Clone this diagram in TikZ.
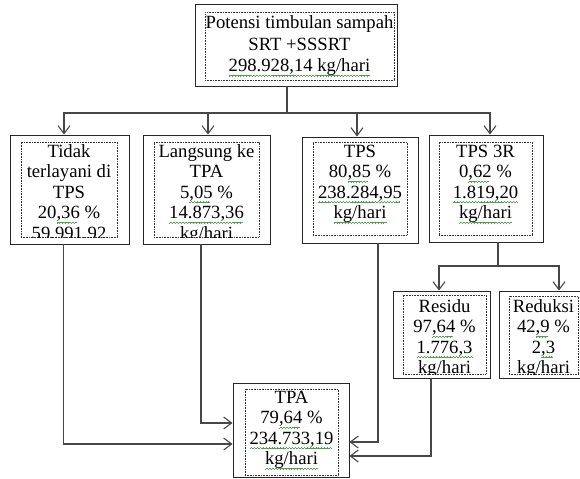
\documentclass[tikz,border=0pt]{standalone}
\usepackage{fontspec}
\setmainfont{Liberation Serif}
\usetikzlibrary{arrows.meta,fit,calc}
\definecolor{sqgreen}{RGB}{70,165,70}
\newcommand\sqbit[1]{\rule[#1]{0.55pt}{0.5pt}}
\newcommand\sq[1]{\setbox0\hbox{#1}\rlap{\color{sqgreen}\leaders\hbox{\sqbit{-3.4pt}\sqbit{-3pt}\sqbit{-2.6pt}\sqbit{-3pt}}\hskip\wd0}\box0\relax}

\begin{document}
\begin{tikzpicture}[x=0.75pt,y=-0.75pt,
outbox/.style={draw=black!85,line width=0.7pt,inner sep=0pt},
inbox/.style={draw=black!80,line width=0.45pt,dash pattern=on 0.6pt off 0.6pt,inner sep=0pt},
txt/.style={anchor=north,inner sep=0pt,align=center,font=\fontsize{14}{15.4}\selectfont},
conn/.style={draw=black!72,line width=0.8pt},
arr/.style={conn,-{Straight Barb[length=6pt,width=9pt]}}]
\path[use as bounding box,clip] (0,0) rectangle (580,478);

% outer boxes
\node[outbox,fit={(195,4) (397,86)}] (top) {};
\node[outbox,fit={(10,135) (129,244)}] (b1) {};
\node[outbox,fit={(143,135) (270,244)}] (b2) {};
\node[outbox,fit={(302,137) (418,243)}] (b3) {};
\node[outbox,fit={(429,135) (543,242)}] (b4) {};
\node[outbox,fit={(393,291) (490,378)}] (residu) {};
\node[outbox,fit={(499,291) (590,378)}] (reduksi) {};
\node[outbox,fit={(233,383) (349,477)}] (tpa) {};

% text boxes
\node[inbox,fit={(205,12) (394,80)}] (topin) {};
\node[inbox,fit={(21,142) (117,237)}] (b1in) {};
\node[inbox,fit={(154,142) (259,237)}] (b2in) {};
\node[inbox,fit={(313,142) (407,235)}] (b3in) {};
\node[inbox,fit={(439,142) (532,235)}] (b4in) {};
\node[inbox,fit={(403,295) (486,374)}] (residuin) {};
\node[inbox,fit={(509,296) (578,374)}] (reduksiin) {};
\node[inbox,fit={(245,389) (338,475)}] (tpain) {};

\node[txt] (toptxt) at (299.5,13.6) {\strut Potensi timbulan sampah\\[1pt] SRT +SSSRT\\[1pt] \sq{298.928,14 kg/hari}};
\begin{scope}
\clip (b1in.south west) rectangle (b1in.north east);
\node[txt] (b1txt) at (69,142.6) {\strut Tidak\\ terlayani di\\ TPS\\ 20\sq{,36} \%\\ 59.991,92};
\end{scope}
\begin{scope}
\clip (b2in.south west) rectangle (b2in.north east);
\node[txt] (b2txt) at (206.5,142.6) {\strut Langsung ke\\ TPA\\ 5\sq{,05} \%\\ \sq{14.873,36}\\ kg/hari};
\end{scope}
\node[txt] (b3txt) at (360,142.6) {\strut TPS\\ 80\sq{,85} \%\\ \sq{238.284,95}\\ \sq{kg/hari}};
\node[txt] (b4txt) at (485.5,142.6) {\strut TPS 3R\\ 0\sq{,62} \%\\ \sq{1.819,20}\\ \sq{kg/hari}};
\begin{scope}
\clip (residuin.south west) rectangle (residuin.north east);
\node[txt] (residutxt) at (444.5,297.6) {\strut Residu\\ 97\sq{,64} \%\\ \sq{1.776,3}\\ kg/hari};
\end{scope}
\begin{scope}
\clip (reduksiin.south west) rectangle (reduksiin.north east);
\node[txt] (reduksitxt) at (543.5,297.6) {\strut Reduksi\\ 42\sq{,9} \%\\ 2\sq{,3}\\ kg/hari};
\end{scope}
\node[txt] (tpatxt) at (291.5,388.6) {\strut TPA\\ 79\sq{,64} \%\\ \sq{234.733,19}\\ \sq{kg/hari}};

% connectors
\coordinate (s1) at (287,113);
\draw[conn] ($(top.south)+(-9,0)$) -- (s1);
\draw[arr] (s1) -| ($(b1.north)+(-5.5,0)$);
\draw[arr] (s1) -| ($(b2.north)+(1.5,0)$);
\draw[arr] (s1) -| ($(b3.north)+(-3,0)$);
\draw[arr] (s1) -| ($(b4.north)+(4,0)$);

\coordinate (s2) at (498,266);
\draw[conn] ($(b4.south)+(12,0)$) -- (s2);
\draw[arr] (s2) -| ($(residu.north)+(-2.5,0)$);
\draw[arr] (s2) -| ($(reduksi.north)+(14.5,0)$);

\draw[arr] ($(b1.south)+(-6,0)$) |- ($(tpa.west)+(0,14)$);
\draw[arr] ($(b2.south)+(-5.5,0)$) |- ($(tpa.west)+(0,-7)$);
\draw[arr] ($(b3.south)+(18,0)$) |- ($(tpa.east)+(0,12)$);
\draw[arr] ($(residu.south)+(-10.5,0)$) |- ($(tpa.east)+(0,26)$);
\end{tikzpicture}
\end{document}
